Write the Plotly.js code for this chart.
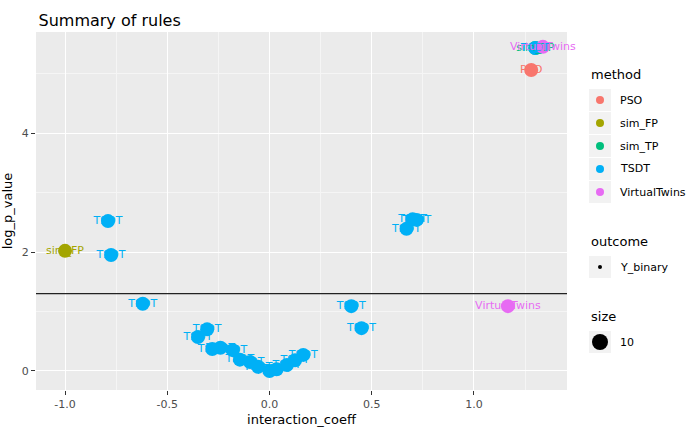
<!DOCTYPE html>
<html>
<head>
<script src="https://cdn.plot.ly/plotly-3.0.1.min.js"></script>
<style>body{margin:0}</style>
</head>
<body>
<div id="plot" style="width:700px;height:432px"></div>
<script>
// rules
var methods = ["PSO", "sim_FP", "sim_TP", "TSDT", "VirtualTwins"];
var colors = ["#F8766D", "#A3A500", "#00BF7D", "#00B0F6", "#E76BF3"];

var psoX = [1.28];
var psoY = [5.06];
var fpX = [-1.0];
var fpY = [2.02];
var tpX = [1.30];
var tpY = [5.43];
var tsdtX = [-0.79, -0.775, -0.62, 0.40, 0.45, 0.67, 0.70, 0.72, 1.30,
  -0.305, -0.35, -0.28, -0.24, -0.18, -0.145, -0.095, -0.056, 0.0, 0.035, 0.085, 0.125, 0.165];
var tsdtY = [2.52, 1.95, 1.13, 1.09, 0.72, 2.39, 2.55, 2.54, 5.43,
  0.70, 0.57, 0.37, 0.39, 0.35, 0.19, 0.15, 0.07, 0.0, 0.03, 0.10, 0.18, 0.27];
var vtX = [1.337, 1.166];
var vtY = [5.45, 1.09];
var cutoff = 1.301;

var xs = [psoX, fpX, tpX, tsdtX, vtX];
var ys = [psoY, fpY, tpY, tsdtY, vtY];

var font = {family: "DejaVu Sans, sans-serif"};
var data = [];
methods.forEach(function(m, i){
  data.push({
    type: "scatter", mode: "markers", x: xs[i], y: ys[i], name: m,
    marker: {color: colors[i], size: 14}, showlegend: false, hoverinfo: "x+y"
  });
});
methods.forEach(function(m, i){
  data.push({
    type: "scatter", mode: "text", x: xs[i], y: ys[i],
    text: xs[i].map(function(){ return m; }),
    textfont: {color: colors[i], size: 11, family: font.family},
    showlegend: false, hoverinfo: "skip", cliponaxis: false
  });
});

// ggplot-style legends drawn by hand (pixel positions -> plot-area paper coords)
var shapes = [{type: "line", xref: "paper", x0: 0, x1: 1, yref: "y", y0: cutoff, y1: cutoff,
  line: {color: "#222", width: 1.2}}];
var ann = [];
var lx = 589;
function px(x){ return (x - 36) / 531; }
function py(y){ return (390 - y) / 358; }
ann.push({xref: "paper", yref: "paper", x: px(lx), y: py(74), xanchor: "left", yanchor: "middle",
  text: "method", showarrow: false, font: {size: 13, color: "#000", family: font.family}});
methods.forEach(function(m, i){
  var cy = 100 + i * 23;
  shapes.push({type: "rect", xref: "paper", yref: "paper", x0: px(lx), x1: px(lx + 22),
    y0: py(cy - 11), y1: py(cy + 11), fillcolor: "#f2f2f2", line: {width: 0}});
  shapes.push({type: "circle", xref: "paper", yref: "paper", x0: px(lx + 7), x1: px(lx + 15),
    y0: py(cy - 4), y1: py(cy + 4), fillcolor: colors[i], line: {width: 0}});
  ann.push({xref: "paper", yref: "paper", x: px(lx + 29), y: py(cy), xanchor: "left", yanchor: "middle",
    text: m, showarrow: false, font: {size: 11, color: "#000", family: font.family}});
});
ann.push({xref: "paper", yref: "paper", x: px(lx), y: py(241), xanchor: "left", yanchor: "middle",
  text: "outcome", showarrow: false, font: {size: 13, color: "#000", family: font.family}});
shapes.push({type: "rect", xref: "paper", yref: "paper", x0: px(lx), x1: px(lx + 22),
  y0: py(256), y1: py(278), fillcolor: "#f2f2f2", line: {width: 0}});
shapes.push({type: "circle", xref: "paper", yref: "paper", x0: px(lx + 9), x1: px(lx + 13),
  y0: py(265), y1: py(269), fillcolor: "#000", line: {width: 0}});
ann.push({xref: "paper", yref: "paper", x: px(lx + 29), y: py(267), xanchor: "left", yanchor: "middle",
  text: "Y_binary", showarrow: false, font: {size: 11, color: "#000", family: font.family}});
ann.push({xref: "paper", yref: "paper", x: px(lx), y: py(316), xanchor: "left", yanchor: "middle",
  text: "size", showarrow: false, font: {size: 13, color: "#000", family: font.family}});
shapes.push({type: "rect", xref: "paper", yref: "paper", x0: px(lx), x1: px(lx + 22),
  y0: py(331), y1: py(353), fillcolor: "#f2f2f2", line: {width: 0}});
shapes.push({type: "circle", xref: "paper", yref: "paper", x0: px(lx + 3), x1: px(lx + 19),
  y0: py(334), y1: py(350), fillcolor: "#000", line: {width: 0}});
ann.push({xref: "paper", yref: "paper", x: px(lx + 29), y: py(342), xanchor: "left", yanchor: "middle",
  text: "10", showarrow: false, font: {size: 11, color: "#000", family: font.family}});

var layout = {
  width: 700, height: 432,
  margin: {l: 36, r: 133, t: 32, b: 42},
  paper_bgcolor: "#fff", plot_bgcolor: "#ebebeb",
  font: {family: font.family, size: 11, color: "#4d4d4d"},
  title: {text: "Summary of rules", x: 0.055, xanchor: "left", y: 0.965,
    font: {size: 16, color: "#000", family: font.family}},
  xaxis: {range: [-1.142, 1.455], tickvals: [-1, -0.5, 0, 0.5, 1],
    ticktext: ["-1.0", "-0.5", "0.0", "0.5", "1.0"],
    gridcolor: "#fff", gridwidth: 1.2, zeroline: false, ticks: "outside", ticklen: 4, tickcolor: "#333",
    minor: {dtick: 0.25, gridcolor: "#f5f5f5", showgrid: true},
    title: {text: "interaction_coeff", font: {size: 13, color: "#000"}, standoff: 4}},
  yaxis: {range: [-0.32, 5.70], tickvals: [0, 2, 4],
    gridcolor: "#fff", gridwidth: 1.2, zeroline: false, ticks: "outside", ticklen: 4, tickcolor: "#333",
    minor: {dtick: 1, gridcolor: "#f5f5f5", showgrid: true},
    title: {text: "log_p_value", font: {size: 13, color: "#000"}, standoff: 6}},
  shapes: shapes, annotations: ann
};
Plotly.newPlot("plot", data, layout, {displayModeBar: false});
</script>
</body>
</html>
